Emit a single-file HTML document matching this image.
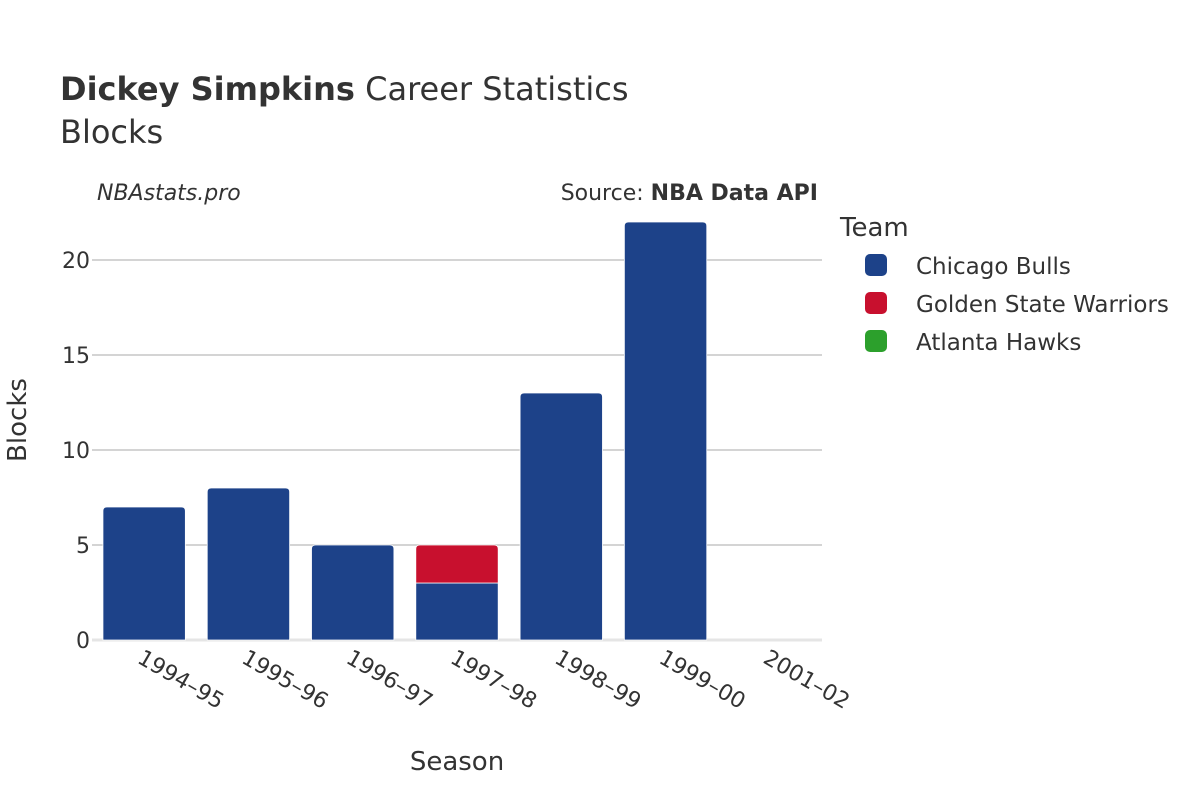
<!DOCTYPE html>
<html><head><meta charset="utf-8"><style>
body{margin:0;background:#fff;font-family:"Liberation Sans","DejaVu Sans",sans-serif;}
svg text{font-family:"DejaVu Sans","Liberation Sans",sans-serif;fill:#333;}
</style></head><body>
<svg id="chart" width="1200" height="800">
<text x="60" y="100" font-size="32"><tspan font-weight="bold">Dickey Simpkins</tspan> Career Statistics</text>
<text x="60" y="143" font-size="32">Blocks</text>
<text x="97" y="200" font-size="22" font-style="italic">NBAstats.pro</text>
<text x="818" y="200" font-size="22" text-anchor="end">Source: <tspan font-weight="bold">NBA Data API</tspan></text>
<g id="grid"></g>
<g id="bars"></g>
<g id="xlabels"></g>
<text x="457" y="770" font-size="26" text-anchor="middle">Season</text>
<text transform="translate(26,420) rotate(-90)" font-size="26" text-anchor="middle">Blocks</text>
<text x="840" y="236" font-size="26">Team</text>
<g id="legend"></g>
</svg>
<script>
const seasons=["1994–95","1995–96","1996–97","1997–98","1998–99","1999–00","2001–02"];
const bulls=[7,8,5,3,13,22,0];
const warriors=[0,0,0,2,0,0,0];
const hawks=[0,0,0,0,0,0,0];
const yTicks=[0,5,10,15,20];
const teams=["Chicago Bulls","Golden State Warriors","Atlanta Hawks"];
const colors=["#1d4289","#c8102e","#2ca02c"];
const NS="http://www.w3.org/2000/svg";
const x0=92,x1=822,y0=640,ppu=19;
const band=(x1-x0)/seasons.length,bw=band*0.79;
const y=v=>y0-v*ppu;
const xc=i=>x0+band*(i+0.5);
function mk(t,a,p){const e=document.createElementNS(NS,t);for(const k in a)e.setAttribute(k,a[k]);p.appendChild(e);return e;}
const grid=document.getElementById('grid');
yTicks.forEach(t=>{
  const l=mk('line',{x1:x0,x2:x1,y1:y(t),y2:y(t),stroke:t===0?'#e5e5e5':'#bbb','stroke-width':t===0?3:1.3},grid);
  
  
  const tx=mk('text',{x:x0-2,y:y(t)+8,'font-size':22,'text-anchor':'end'},grid);
  tx.textContent=t;
  
  
});
const bars=document.getElementById('bars');
function bar(i,lo,hi,c,name,top){
  if(hi<=lo)return;
  const L=xc(i)-bw/2,R=xc(i)+bw/2,T=y(hi),B=y(lo),r=top?Math.min(4,(B-T)/2):0;
  const p=mk('path',{d:`M${L},${B}V${T+r}Q${L},${T} ${L+r},${T}H${R-r}Q${R},${T} ${R},${T+r}V${B}Z`,fill:c,stroke:'#fff','stroke-width':0.8},bars);
  
  
}
seasons.forEach((s,i)=>{
  const a=bulls[i],b=warriors[i],h=hawks[i];
  bar(i,0,a,colors[0],'bar-bulls-'+s,b===0&&h===0);
  bar(i,a,a+b,colors[1],'bar-warriors-'+s,h===0);
  bar(i,a+b,a+b+h,colors[2],'bar-hawks-'+s,true);
  const t=mk('text',{x:xc(i)-8,y:y0+22,'font-size':22,transform:`rotate(30 ${xc(i)-8} ${y0+22})`},document.getElementById('xlabels'));
  t.textContent=s;
  
  
});
const lg=document.getElementById('legend');
teams.forEach((n,i)=>{
  const g=mk('g',{},lg);
  
  
  mk('rect',{x:865,y:254+i*38,width:22,height:22,rx:5,fill:colors[i]},g);
  const t=mk('text',{x:916,y:274+i*38,'font-size':23},g);t.textContent=n;
});
</script>
</body></html>
